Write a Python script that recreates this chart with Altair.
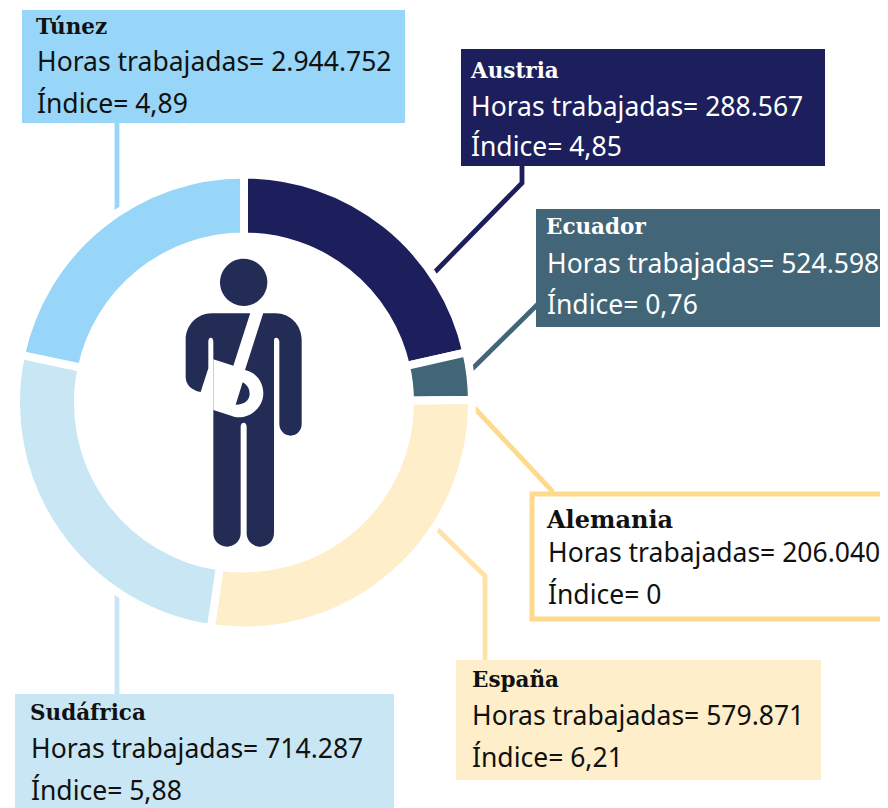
import re
import altair as alt
import pandas as pd

# --- values
paises = ["Austria", "Ecuador", "Alemania", "España", "Sudáfrica", "Túnez"]
horas = ["288.567", "524.598", "206.040", "579.871", "714.287", "2.944.752"]
indices = [4.85, 0.76, 0.0, 6.21, 5.88, 4.89]
indices_txt = ["4,85", "0,76", "0", "6,21", "5,88", "4,89"]

# --- styling / layout (image pixels)
colores = ["#1c1f5b", "#426677", "#ffd98c", "#feeec9", "#c8e6f4", "#97d6f8"]
lineas = ["#1c1f5b", "#426677", "#ffd98c", "#ffe3a6", "#c8e6f4", "#97d6f8"]
cajas = [(461, 825, 49, 166), (536, 890, 209, 327), (532, 900, 494, 619),
         (456, 821, 660, 780), (15, 394, 694, 810), (22, 405, 10, 123)]
textos = [(471, 78, 471, 116, 156), (546, 234, 547, 273, 314), (547, 528, 548, 562, 604),
          (472, 687, 472, 725, 767), (30, 720, 31, 758, 800), (36, 34, 37, 71, 113)]
guias = [[(522, 166), (522, 183), (431, 276)], [(540, 302), (466, 375)],
         [(553, 492), (468, 401)], [(485, 660), (485, 576), (432, 524)],
         [(117, 694), (117, 588)], [(117, 123), (117, 215)]]

W, H = 872, 800
X = alt.X("x:Q", scale=alt.Scale(domain=[8, 880], range=[0, W]), axis=None)
Y = alt.Y("y:Q", scale=alt.Scale(domain=[8, 808], range=[0, H]), axis=None)
X2 = alt.X2("x2:Q")
Y2 = alt.Y2("y2:Q")
color_esc = alt.Scale(domain=paises, range=colores)

guia_df = pd.DataFrame([
    {"pais": p, "orden": i, "x": a, "y": b}
    for p, g in zip(paises, guias) for i, (a, b) in enumerate(g)])
capa_guias = alt.Chart(guia_df).mark_line(strokeWidth=4.8, strokeCap="butt", strokeJoin="miter").encode(
    x=X, y=Y, order="orden:Q",
    color=alt.Color("pais:N", legend=None, scale=alt.Scale(domain=paises, range=lineas)))

arcos_df = pd.DataFrame({"pais": paises, "indice": indices, "orden": range(6)})
capa_arcos = alt.Chart(arcos_df).mark_arc(radius=228, radius2=166, stroke="white", strokeWidth=8).encode(
    theta=alt.Theta("indice:Q", stack=True),
    order=alt.Order("orden:Q"),
    color=alt.Color("pais:N", legend=None, scale=color_esc),
    x=alt.value(244 - 8), y=alt.value(402.5 - 8))

caja_df = pd.DataFrame([
    {"pais": p, "x": c[0], "x2": c[1], "y": c[2], "y2": c[3]}
    for p, c in zip(paises, cajas)])
solidas = caja_df[caja_df.pais != "Alemania"]
capa_cajas = alt.Chart(solidas).mark_rect(strokeWidth=0).encode(
    x=X, x2=X2, y=Y, y2=Y2, color=alt.Color("pais:N", legend=None, scale=color_esc))
capa_marco = alt.Chart(caja_df[caja_df.pais == "Alemania"]).mark_rect(
    fill="white", stroke="#ffd98c", strokeWidth=5).encode(x=X, x2=X2, y=Y, y2=Y2)

SANS = "Noto Sans"
SERIF = "DejaVu Serif"
titulos = pd.DataFrame([{"t": p, "x": t[0], "y": t[1]} for p, t in zip(paises, textos)])
lin1 = pd.DataFrame([{"t": f"Horas trabajadas= {h}", "x": t[2], "y": t[3]} for h, t in zip(horas, textos)])
lin2 = pd.DataFrame([{"t": f"Índice= {v}", "x": t[2], "y": t[4]} for v, t in zip(indices_txt, textos)])


def capa_texto(df, color_txt="#111111", **kw):
    return alt.Chart(df).mark_text(align="left", baseline="alphabetic", color=color_txt, **kw).encode(
        x=X, y=Y, text="t:N")


BLANCOS = ["Austria", "Ecuador"]
es_claro = titulos.t.isin(BLANCOS)
capa_t1 = capa_texto(titulos[~es_claro & (titulos.t != "Alemania")], font=SERIF, fontWeight="bold", fontSize=21.5)
capa_t1b = capa_texto(titulos[es_claro], "white", font=SERIF, fontWeight="bold", fontSize=21.5)
capa_t2 = capa_texto(titulos[titulos.t == "Alemania"], font=SERIF, fontWeight="bold", fontSize=24)
cuerpo_cfg = dict(font=SANS, fontSize=26.5)
capa_b1 = capa_texto(lin1.iloc[2:], **cuerpo_cfg)
capa_b1b = capa_texto(lin1.iloc[:2], "white", **cuerpo_cfg)
capa_b2 = capa_texto(lin2.iloc[2:], **cuerpo_cfg)
capa_b2b = capa_texto(lin2.iloc[:2], "white", **cuerpo_cfg)


# --- pictogram: outlines drawn on a 480-per-unit grid around (225, 480)
def figura(spec):
    vals = iter(re.findall(r"-?\d+\.?\d*|[A-Z]", spec))
    out, eje = [], 0
    for tok in vals:
        if tok.isalpha():
            out.append(tok)
            eje = 0
        else:
            c = 225 if eje == 0 else 480
            out.append(f"{(float(tok) - c) / 480:.4f}")
            eje = 1 - eje
    return " ".join(out)


cabeza = figura("M 221 56 C 260 56 292 88 292 127 C 292 166 260 198 221 198 C 182 198 150 166 150 127 C 150 88 182 56 221 56 Z")
cuerpo = figura("M 125 220 L 317 220 C 360 220 395 255 395 300 L 395 553 C 395 572 380 587 362 587 "
                "C 344 587 328 572 328 553 L 328 305 C 328 298 323 293 318 293 C 313 293 312 298 312 305 "
                "L 312 880 C 312 902 294 920 271 920 C 248 920 230 902 230 880 L 230 560 C 230 553 226 548 221 548 "
                "C 216 548 212 553 212 560 L 212 880 C 212 902 194 920 171 920 C 148 920 130 902 130 880 "
                "L 130 305 C 130 298 127 293 122 293 C 118 293 115 298 115 305 L 115 385 L 92 456 "
                "C 62 450 47 432 47 410 L 47 300 C 47 255 82 220 125 220 Z")
cabestrillo = figura("M 130 358 L 190 377 L 243 212 L 282 212 L 225 390 C 262 398 280 430 280 460 "
                     "C 280 500 245 532 205 532 C 198 532 193 531 188 529 L 130 510 Z")
mano = figura("M 218 427 C 246 440 252 494 197 494 Z")

centro = pd.DataFrame({"x": [245], "y": [400]})


def capa_figura(path, color):
    return alt.Chart(centro).mark_point(shape=path, size=320 ** 2, filled=True, fill=color,
                                        opacity=1).encode(x=X, y=Y)


AZUL = "#222c54"
capas = [capa_guias, capa_arcos, capa_cajas, capa_marco, capa_t1, capa_t1b, capa_t2,
         capa_b1, capa_b1b, capa_b2, capa_b2b,
         capa_figura(cabeza, AZUL), capa_figura(cuerpo, AZUL),
         capa_figura(cabestrillo, "white"), capa_figura(mano, AZUL)]

chart = alt.layer(*capas).resolve_scale(color="independent").properties(
    width=W, height=H, padding=0, autosize=alt.AutoSizeParams(type="none")
).configure_view(stroke=None)

chart.save("out.html", embed_options={"renderer": "svg", "actions": False})
